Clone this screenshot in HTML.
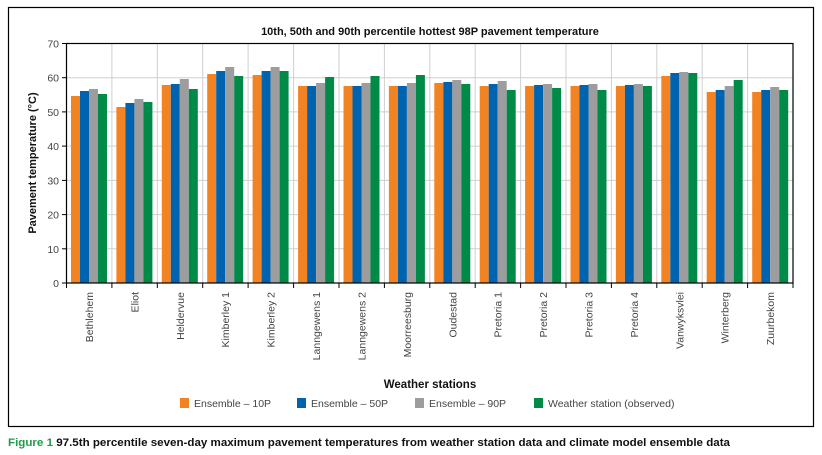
<!DOCTYPE html>
<html><head><meta charset="utf-8"><style>
body{margin:0;background:#fff;width:822px;height:455px;overflow:hidden}
svg{display:block;font-family:"Liberation Sans",sans-serif}
</style></head><body>
<svg width="822" height="455" viewBox="0 0 822 455">
<rect x="8.5" y="7.5" width="805" height="419" fill="#fff" stroke="#000" stroke-width="1.2"/>
<text x="430" y="35" font-size="11" font-weight="bold" text-anchor="middle" fill="#111">10th, 50th and 90th percentile hottest 98P pavement temperature</text>
<g stroke="#cfcfcf" stroke-width="1">
<line x1="66.5" x2="793" y1="77.7" y2="77.7"/><line x1="66.5" x2="793" y1="111.9" y2="111.9"/><line x1="66.5" x2="793" y1="146.1" y2="146.1"/><line x1="66.5" x2="793" y1="180.4" y2="180.4"/><line x1="66.5" x2="793" y1="214.6" y2="214.6"/><line x1="66.5" x2="793" y1="248.8" y2="248.8"/>
<line x1="111.9" x2="111.9" y1="43.5" y2="283"/><line x1="157.3" x2="157.3" y1="43.5" y2="283"/><line x1="202.7" x2="202.7" y1="43.5" y2="283"/><line x1="248.1" x2="248.1" y1="43.5" y2="283"/><line x1="293.6" x2="293.6" y1="43.5" y2="283"/><line x1="339" x2="339" y1="43.5" y2="283"/><line x1="384.4" x2="384.4" y1="43.5" y2="283"/><line x1="429.8" x2="429.8" y1="43.5" y2="283"/><line x1="475.2" x2="475.2" y1="43.5" y2="283"/><line x1="520.6" x2="520.6" y1="43.5" y2="283"/><line x1="566" x2="566" y1="43.5" y2="283"/><line x1="611.4" x2="611.4" y1="43.5" y2="283"/><line x1="656.8" x2="656.8" y1="43.5" y2="283"/><line x1="702.2" x2="702.2" y1="43.5" y2="283"/><line x1="747.6" x2="747.6" y1="43.5" y2="283"/>
</g>
<g>
<g transform="translate(71,0)"><rect x="0" y="96" width="9" height="187" fill="#f28322"/><rect x="9" y="91" width="9" height="192" fill="#0063b0"/><rect x="18" y="89" width="9" height="194" fill="#9d9d9f"/><rect x="27" y="94" width="9" height="189" fill="#008a47"/></g>
<g transform="translate(116.4,0)"><rect x="0" y="107" width="9" height="176" fill="#f28322"/><rect x="9" y="103" width="9" height="180" fill="#0063b0"/><rect x="18" y="99" width="9" height="184" fill="#9d9d9f"/><rect x="27" y="102" width="9" height="181" fill="#008a47"/></g>
<g transform="translate(161.8,0)"><rect x="0" y="85" width="9" height="198" fill="#f28322"/><rect x="9" y="84" width="9" height="199" fill="#0063b0"/><rect x="18" y="79" width="9" height="204" fill="#9d9d9f"/><rect x="27" y="89" width="9" height="194" fill="#008a47"/></g>
<g transform="translate(207.2,0)"><rect x="0" y="74" width="9" height="209" fill="#f28322"/><rect x="9" y="71" width="9" height="212" fill="#0063b0"/><rect x="18" y="67" width="9" height="216" fill="#9d9d9f"/><rect x="27" y="76" width="9" height="207" fill="#008a47"/></g>
<g transform="translate(252.6,0)"><rect x="0" y="75" width="9" height="208" fill="#f28322"/><rect x="9" y="71" width="9" height="212" fill="#0063b0"/><rect x="18" y="67" width="9" height="216" fill="#9d9d9f"/><rect x="27" y="71" width="9" height="212" fill="#008a47"/></g>
<g transform="translate(298.1,0)"><rect x="0" y="86" width="9" height="197" fill="#f28322"/><rect x="9" y="86" width="9" height="197" fill="#0063b0"/><rect x="18" y="83" width="9" height="200" fill="#9d9d9f"/><rect x="27" y="77" width="9" height="206" fill="#008a47"/></g>
<g transform="translate(343.5,0)"><rect x="0" y="86" width="9" height="197" fill="#f28322"/><rect x="9" y="86" width="9" height="197" fill="#0063b0"/><rect x="18" y="83" width="9" height="200" fill="#9d9d9f"/><rect x="27" y="76" width="9" height="207" fill="#008a47"/></g>
<g transform="translate(388.9,0)"><rect x="0" y="86" width="9" height="197" fill="#f28322"/><rect x="9" y="86" width="9" height="197" fill="#0063b0"/><rect x="18" y="83" width="9" height="200" fill="#9d9d9f"/><rect x="27" y="75" width="9" height="208" fill="#008a47"/></g>
<g transform="translate(434.3,0)"><rect x="0" y="83" width="9" height="200" fill="#f28322"/><rect x="9" y="82" width="9" height="201" fill="#0063b0"/><rect x="18" y="80" width="9" height="203" fill="#9d9d9f"/><rect x="27" y="84" width="9" height="199" fill="#008a47"/></g>
<g transform="translate(479.7,0)"><rect x="0" y="86" width="9" height="197" fill="#f28322"/><rect x="9" y="84" width="9" height="199" fill="#0063b0"/><rect x="18" y="81" width="9" height="202" fill="#9d9d9f"/><rect x="27" y="90" width="9" height="193" fill="#008a47"/></g>
<g transform="translate(525.1,0)"><rect x="0" y="86" width="9" height="197" fill="#f28322"/><rect x="9" y="85" width="9" height="198" fill="#0063b0"/><rect x="18" y="84" width="9" height="199" fill="#9d9d9f"/><rect x="27" y="88" width="9" height="195" fill="#008a47"/></g>
<g transform="translate(570.5,0)"><rect x="0" y="86" width="9" height="197" fill="#f28322"/><rect x="9" y="85" width="9" height="198" fill="#0063b0"/><rect x="18" y="84" width="9" height="199" fill="#9d9d9f"/><rect x="27" y="90" width="9" height="193" fill="#008a47"/></g>
<g transform="translate(615.9,0)"><rect x="0" y="86" width="9" height="197" fill="#f28322"/><rect x="9" y="85" width="9" height="198" fill="#0063b0"/><rect x="18" y="84" width="9" height="199" fill="#9d9d9f"/><rect x="27" y="86" width="9" height="197" fill="#008a47"/></g>
<g transform="translate(661.3,0)"><rect x="0" y="76" width="9" height="207" fill="#f28322"/><rect x="9" y="73" width="9" height="210" fill="#0063b0"/><rect x="18" y="72" width="9" height="211" fill="#9d9d9f"/><rect x="27" y="73" width="9" height="210" fill="#008a47"/></g>
<g transform="translate(706.7,0)"><rect x="0" y="92" width="9" height="191" fill="#f28322"/><rect x="9" y="90" width="9" height="193" fill="#0063b0"/><rect x="18" y="86" width="9" height="197" fill="#9d9d9f"/><rect x="27" y="80" width="9" height="203" fill="#008a47"/></g>
<g transform="translate(752.2,0)"><rect x="0" y="92" width="9" height="191" fill="#f28322"/><rect x="9" y="90" width="9" height="193" fill="#0063b0"/><rect x="18" y="87" width="9" height="196" fill="#9d9d9f"/><rect x="27" y="90" width="9" height="193" fill="#008a47"/></g>
</g>
<rect x="66.5" y="43.5" width="726.5" height="239.5" fill="none" stroke="#000" stroke-width="1.2"/>
<g stroke="#000" stroke-width="1">
<line x1="62" x2="66.5" y1="43.5" y2="43.5"/><line x1="62" x2="66.5" y1="77.7" y2="77.7"/><line x1="62" x2="66.5" y1="111.9" y2="111.9"/><line x1="62" x2="66.5" y1="146.1" y2="146.1"/><line x1="62" x2="66.5" y1="180.4" y2="180.4"/><line x1="62" x2="66.5" y1="214.6" y2="214.6"/><line x1="62" x2="66.5" y1="248.8" y2="248.8"/><line x1="62" x2="66.5" y1="283" y2="283"/>
<line x1="66.5" x2="66.5" y1="283" y2="288"/><line x1="111.9" x2="111.9" y1="283" y2="288"/><line x1="157.3" x2="157.3" y1="283" y2="288"/><line x1="202.7" x2="202.7" y1="283" y2="288"/><line x1="248.1" x2="248.1" y1="283" y2="288"/><line x1="293.6" x2="293.6" y1="283" y2="288"/><line x1="339" x2="339" y1="283" y2="288"/><line x1="384.4" x2="384.4" y1="283" y2="288"/><line x1="429.8" x2="429.8" y1="283" y2="288"/><line x1="475.2" x2="475.2" y1="283" y2="288"/><line x1="520.6" x2="520.6" y1="283" y2="288"/><line x1="566" x2="566" y1="283" y2="288"/><line x1="611.4" x2="611.4" y1="283" y2="288"/><line x1="656.8" x2="656.8" y1="283" y2="288"/><line x1="702.2" x2="702.2" y1="283" y2="288"/><line x1="747.6" x2="747.6" y1="283" y2="288"/><line x1="793" x2="793" y1="283" y2="288"/>
</g>
<g font-size="10.5" fill="#444" text-anchor="end">
<text x="59" y="47.5">70</text><text x="59" y="81.7">60</text><text x="59" y="115.9">50</text><text x="59" y="150.1">40</text><text x="59" y="184.4">30</text><text x="59" y="218.6">20</text><text x="59" y="252.8">10</text><text x="59" y="287">0</text>
</g>
<text transform="translate(36,163) rotate(-90)" font-size="11" font-weight="bold" text-anchor="middle" fill="#111">Pavement temperature (°C)</text>
<g font-size="10.5" fill="#444" text-anchor="end">
<text transform="translate(93,292) rotate(-90)">Bethlehem</text>
<text transform="translate(138.4,292) rotate(-90)">Eliot</text>
<text transform="translate(183.8,292) rotate(-90)">Heldervue</text>
<text transform="translate(229.2,292) rotate(-90)">Kimberley 1</text>
<text transform="translate(274.6,292) rotate(-90)">Kimberley 2</text>
<text transform="translate(320.1,292) rotate(-90)">Lanngewens 1</text>
<text transform="translate(365.5,292) rotate(-90)">Lanngewens 2</text>
<text transform="translate(410.9,292) rotate(-90)">Moorreesburg</text>
<text transform="translate(456.3,292) rotate(-90)">Oudestad</text>
<text transform="translate(501.7,292) rotate(-90)">Pretoria 1</text>
<text transform="translate(547.1,292) rotate(-90)">Pretoria 2</text>
<text transform="translate(592.5,292) rotate(-90)">Pretoria 3</text>
<text transform="translate(637.9,292) rotate(-90)">Pretoria 4</text>
<text transform="translate(683.3,292) rotate(-90)">Vanwyksvlei</text>
<text transform="translate(728.7,292) rotate(-90)">Winterberg</text>
<text transform="translate(774.2,292) rotate(-90)">Zuurbekom</text>
</g>
<text x="430" y="388" font-size="11.5" font-weight="bold" text-anchor="middle" fill="#111">Weather stations</text>
<g font-size="10.5" fill="#444">
<rect x="180" y="398" width="9" height="10" fill="#f28322"/><text x="194" y="407">Ensemble – 10P</text>
<rect x="297" y="398" width="9" height="10" fill="#0063b0"/><text x="311" y="407">Ensemble – 50P</text>
<rect x="415" y="398" width="9" height="10" fill="#9d9d9f"/><text x="429" y="407">Ensemble – 90P</text>
<rect x="534" y="398" width="9" height="10" fill="#008a47"/><text x="548" y="407">Weather station (observed)</text>
</g>
<text x="8" y="446" font-size="11" font-weight="bold" fill="#111" textLength="722" lengthAdjust="spacingAndGlyphs"><tspan fill="#1e9a4a">Figure 1</tspan> 97.5th percentile seven-day maximum pavement temperatures from weather station data and climate model ensemble data</text>
</svg>
</body></html>
